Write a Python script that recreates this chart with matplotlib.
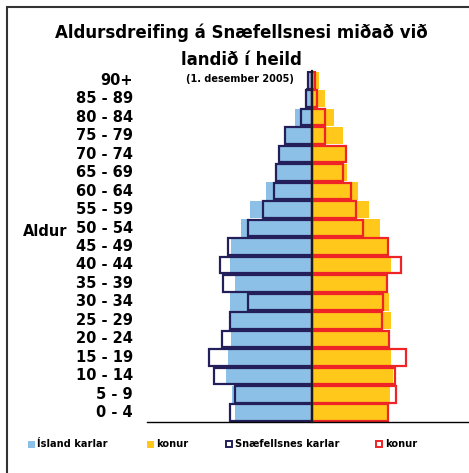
#population pyramid: Snaefellsnes vs Iceland, 1 Dec 2005
import matplotlib
matplotlib.use('Agg')
import matplotlib.pyplot as plt
import matplotlib.transforms as mtransforms
from matplotlib.patches import Rectangle
import numpy as np

plt.rcParams['font.family'] = ['DejaVu Sans']
plt.rcParams['font.weight'] = 'bold'

ages = ['0 - 4', '5 - 9', '10 - 14', '15 - 19', '20 - 24', '25 - 29', '30 - 34',
        '35 - 39', '40 - 44', '45 - 49', '50 - 54', '55 - 59', '60 - 64',
        '65 - 69', '70 - 74', '75 - 79', '80 - 84', '85 - 89', '90+']

# percent of total population
island_karlar = [3.50, 3.65, 3.91, 3.82, 3.68, 3.74, 3.73, 3.50, 3.73, 3.68,
                 3.23, 2.82, 2.09, 1.64, 1.56, 1.27, 0.77, 0.32, 0.20]
island_konur = [3.42, 3.55, 3.70, 3.59, 3.55, 3.58, 3.50, 3.36, 3.59, 3.50,
                3.09, 2.59, 2.08, 1.58, 1.58, 1.41, 1.00, 0.59, 0.32]
snae_karlar = [3.73, 3.49, 4.45, 4.66, 4.10, 3.72, 2.93, 4.05, 4.20, 3.81,
               2.90, 2.25, 1.72, 1.62, 1.48, 1.24, 0.48, 0.29, 0.20]
snae_konur = [3.47, 3.84, 3.78, 4.26, 3.51, 3.17, 3.22, 3.41, 4.06, 3.46,
              2.34, 1.99, 1.75, 1.43, 1.54, 0.58, 0.58, 0.24, 0.14]

c_blue = '#8dc0e6'
c_gold = '#ffc81a'
c_navy = '#231f5a'
c_red = '#ee2426'

W, H = 469, 473
fig = plt.figure(figsize=(W / 100, H / 100), dpi=100)

# outer frame (only left and top visible in the original crop)
fig.add_artist(Rectangle((6.5 / W, -0.2), 1.5, 1.2 - 7.0 / H, transform=fig.transFigure,
                         fill=False, edgecolor='#333333', linewidth=1.5))

ax = fig.add_axes([147 / W, 1 - 422 / H, 330 / W, 351 / H])
y = np.arange(len(ages))

ax.barh(y, -np.array(island_karlar), height=0.94, color=c_blue, zorder=1)
ax.barh(y, island_konur, height=0.94, color=c_gold, zorder=1)
ax.barh(y, -np.array(snae_karlar), height=0.90, fill=False, edgecolor=c_navy,
        linewidth=1.6, zorder=2)
ax.barh(y, snae_konur, height=0.90, fill=False, edgecolor=c_red,
        linewidth=1.6, zorder=2)

ax.set_xlim(-7.5, 7.5)
ax.set_ylim(-0.5, 18.5)
ax.spines['top'].set_visible(False)
ax.spines['right'].set_visible(False)
ax.spines['left'].set_position(('data', 0))
ax.spines['left'].set_linewidth(1.6)
ax.spines['left'].set_color('#1a1a1a')
ax.spines['left'].set_zorder(3)
ax.spines['bottom'].set_linewidth(1.0)
ax.set_xticks([])
ax.set_yticks(np.arange(0.5, 18.5, 1))
ax.set_yticklabels([])
ax.tick_params(axis='y', direction='out', length=4, width=1.2, color='#1a1a1a')

# age labels at the left side
trans = mtransforms.blended_transform_factory(fig.transFigure, ax.transData)
for i, lab in enumerate(ages):
    ax.text(133 / W, i, lab, transform=trans, ha='right', va='center',
            fontsize=10.5, fontweight='bold', clip_on=False)
fig.text(23 / W, 1 - 231 / H, 'Aldur', ha='left', va='center',
         fontsize=10.5, fontweight='bold')

# titles
fig.text(241 / W, 1 - 33 / H, 'Aldursdreifing á Snæfellsnesi miðað við',
         ha='center', va='center', fontsize=12, fontweight='bold')
fig.text(241 / W, 1 - 60 / H, 'landið í heild', ha='center', va='center',
         fontsize=12, fontweight='bold')
fig.text(240 / W, 1 - 79 / H, '(1. desember 2005)', ha='center', va='center',
         fontsize=7, fontweight='bold')

# legend
ly = 1 - 444 / H
items = [(28, c_blue, None, 'Ísland karlar'), (147, c_gold, None, 'konur'),
         (226, 'white', c_navy, 'Snæfellsnes karlar'), (376, 'white', c_red, 'konur')]
for x0, fc, ec, lab in items:
    if ec is None:
        fig.add_artist(Rectangle((x0 / W, ly - 3.5 / H), 7 / W, 7 / H,
                                 transform=fig.transFigure, facecolor=fc, edgecolor='none'))
    else:
        fig.add_artist(Rectangle((x0 / W, ly - 3 / H), 6 / W, 6 / H,
                                 transform=fig.transFigure, facecolor='white',
                                 edgecolor=ec, linewidth=1.4))
    fig.text((x0 + 9) / W, ly, lab, ha='left', va='center', fontsize=7.1,
             fontweight='bold')

fig.savefig('out.png', dpi=100)
